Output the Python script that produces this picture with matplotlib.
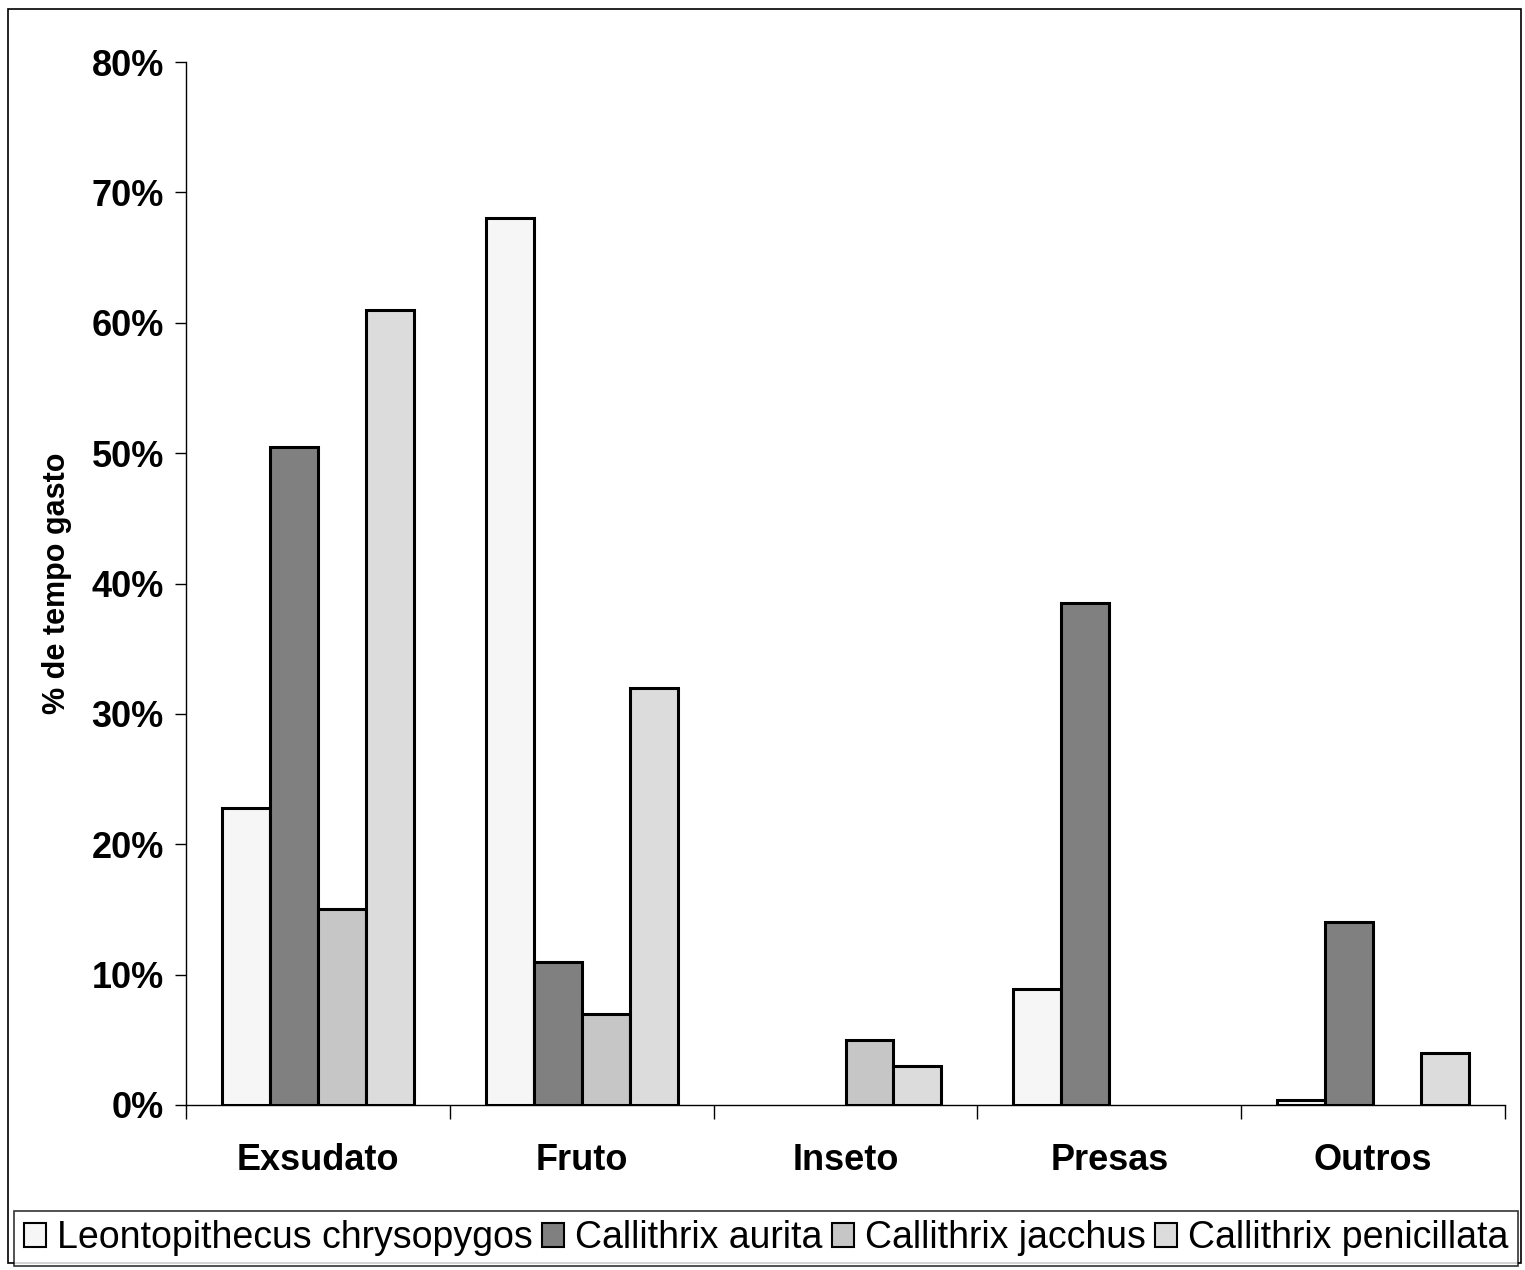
import matplotlib
matplotlib.use("Agg")
import matplotlib.pyplot as plt
from matplotlib.patches import Rectangle
import numpy as np

categories = ["Exsudato", "Fruto", "Inseto", "Presas", "Outros"]
species = ["Leontopithecus chrysopygos", "Callithrix aurita",
           "Callithrix jacchus", "Callithrix penicillata"]
leontopithecus = [22.8, 68.0, 0.0, 8.9, 0.4]
aurita = [50.5, 11.0, 0.0, 38.5, 14.0]
jacchus = [15.0, 7.0, 5.0, 0.0, 0.0]
penicillata = [61.0, 32.0, 3.0, 0.0, 4.0]
yticks = [0, 10, 20, 30, 40, 50, 60, 70, 80]
ytick_labels = ["0%", "10%", "20%", "30%", "40%", "50%", "60%", "70%", "80%"]

series = [leontopithecus, aurita, jacchus, penicillata]
colors = ["#f6f6f6", "#808080", "#c6c6c6", "#dcdcdc"]

plt.rcParams['font.family'] = ['Liberation Sans', 'DejaVu Sans']

W, H = 1525, 1270
fig = plt.figure(figsize=(W / 100, H / 100), dpi=100)
ax = fig.add_axes([186 / W, 1 - 1105 / H, (1505 - 186) / W, (1105 - 62) / H])

x = np.arange(len(categories))
w = 48 / 264
handles = []
for i, (vals, c) in enumerate(zip(series, colors)):
    edges = ["black" if v > 0 else "none" for v in vals]
    b = ax.bar(x + (i - 1.5) * w, vals, width=w, color=c, edgecolor=edges,
               linewidth=2.2, label=species[i], zorder=3)
    handles.append(b)

ax.set_xlim(-0.5, len(categories) - 0.5)
ax.set_ylim(0, 80)
ax.set_yticks(yticks)
ax.set_yticklabels(ytick_labels, fontsize=26, fontweight="bold")
ax.set_xticks(np.arange(-0.5, len(categories), 1.0))
ax.set_xticklabels([])
ax.set_xticks(x, minor=True)
ax.set_xticklabels(categories, minor=True, fontsize=26, fontweight="bold")
ax.tick_params(axis="x", which="minor", length=0, pad=27)
ax.tick_params(axis="x", which="major", length=10, width=1, direction="out")
ax.tick_params(axis="y", length=8, width=1, direction="out", pad=8)
ax.spines["top"].set_visible(False)
ax.spines["right"].set_visible(False)
ax.spines["left"].set_linewidth(1)
ax.spines["bottom"].set_linewidth(1)
ax.set_ylabel("% de tempo gasto", fontsize=22, fontweight="bold", labelpad=14)

fig.patches.append(Rectangle((8 / W, 1 - 1263 / H), (1521 - 8) / W, (1263 - 9) / H,
                             transform=fig.transFigure, fill=False,
                             edgecolor="black", linewidth=1.2))

leg = fig.legend(handles=handles, labels=species, loc="center",
                 bbox_to_anchor=(0.5 * (15 + 1517) / W, 1 - 1238.5 / H),
                 ncol=4, fontsize=27, frameon=True, fancybox=False,
                 edgecolor="black", handlelength=0.6, handleheight=0.6,
                 handletextpad=0.28, columnspacing=0.25, borderaxespad=0,
                 borderpad=0.25)
leg.get_frame().set_linewidth(1.2)
for h in leg.legend_handles:
    h.set_linewidth(1.5)

fig.savefig("out.png", dpi=100, facecolor="white")
